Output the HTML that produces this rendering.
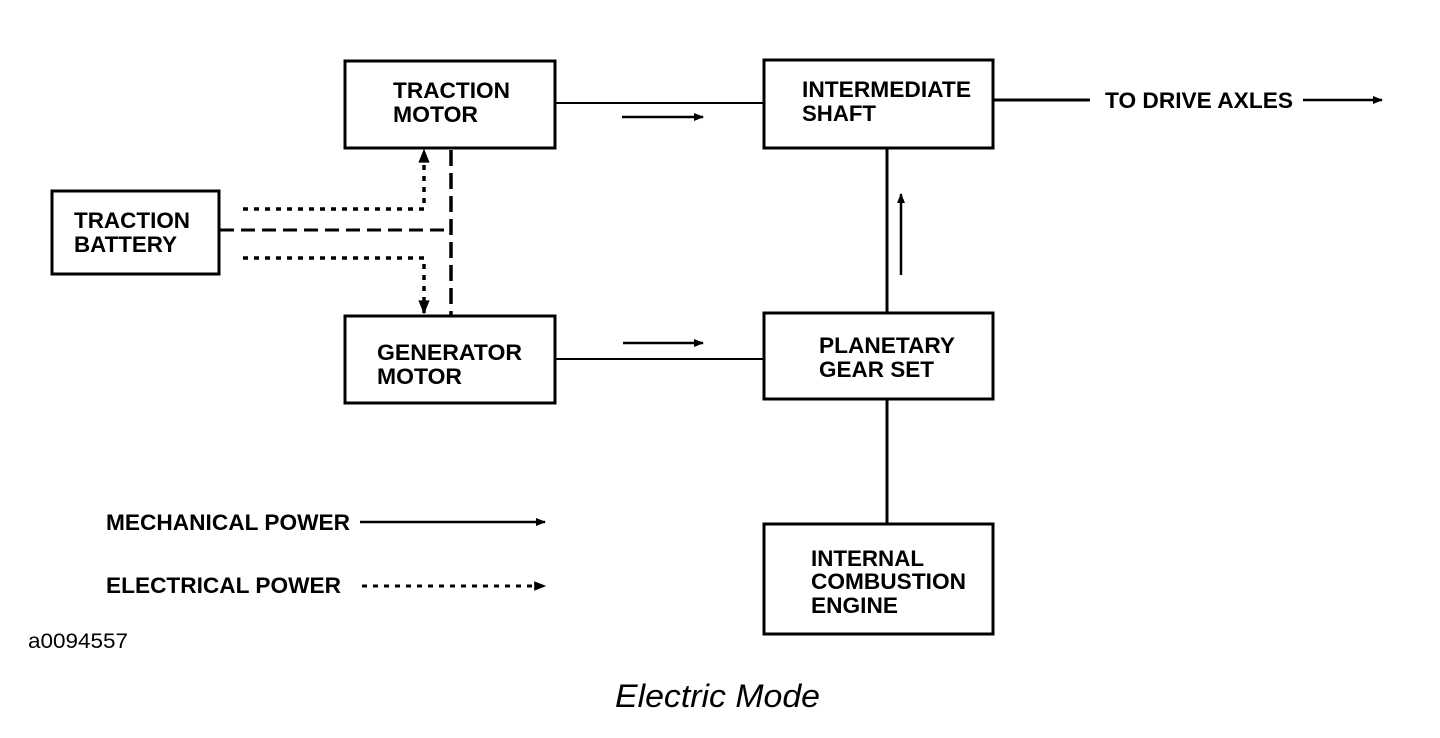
<!DOCTYPE html>
<html><head><meta charset="utf-8"><style>
html,body{margin:0;padding:0;background:#fff;}
svg{display:block}
text{font-family:"Liberation Sans",Arial,sans-serif;fill:#000;}
</style></head><body>
<svg width="1440" height="738" viewBox="0 0 1440 738" xmlns="http://www.w3.org/2000/svg">
<defs>
<marker id="ah" viewBox="0 0 10 10" refX="9" refY="5" markerWidth="5" markerHeight="4" orient="auto" markerUnits="strokeWidth"><path d="M0,1 L10,5 L0,9 z" fill="#000"/></marker>
</defs>
<g fill="none" stroke="#000" stroke-width="3">
<rect x="345" y="61" width="210" height="87"/>
<rect x="764" y="60" width="229" height="88"/>
<rect x="764" y="313" width="229" height="86"/>
<rect x="345" y="316" width="210" height="87"/>
<rect x="764" y="524" width="229" height="110"/>
<rect x="52" y="191" width="167" height="83"/>
</g>
<g stroke="#000" stroke-width="2" fill="none">
<line x1="555" y1="103" x2="764" y2="103"/>
<line x1="555" y1="359" x2="764" y2="359"/>
<line x1="887" y1="148" x2="887" y2="313" stroke-width="3"/>
<line x1="887" y1="399" x2="887" y2="524" stroke-width="3"/>
<line x1="993" y1="100" x2="1090" y2="100" stroke-width="3"/>
<line x1="622" y1="117" x2="703" y2="117" stroke-width="2.5" marker-end="url(#ah)"/>
<line x1="623" y1="343" x2="703" y2="343" stroke-width="2.5" marker-end="url(#ah)"/>
<line x1="901" y1="275" x2="901" y2="194" stroke-width="2.5" marker-end="url(#ah)"/>
<line x1="1303" y1="100" x2="1382" y2="100" stroke-width="2.5" marker-end="url(#ah)"/>
<line x1="360" y1="522" x2="545" y2="522" stroke-width="2.5" marker-end="url(#ah)"/>
<line x1="362" y1="586" x2="545" y2="586" stroke-width="3" stroke-dasharray="5,6" marker-end="url(#ah)"/>
<polyline points="243,209 424,209 424,150" stroke-width="3.5" stroke-dasharray="5,6" marker-end="url(#ah)"/>
<polyline points="243,258 424,258 424,313" stroke-width="3.5" stroke-dasharray="5,6" marker-end="url(#ah)"/>
<polyline points="220,230 451,230" stroke-width="3" stroke-dasharray="14,7"/>
<line x1="451" y1="150" x2="451" y2="315" stroke-width="3.5" stroke-dasharray="16,7"/>
</g>
<g font-size="22" font-weight="bold" lengthAdjust="spacingAndGlyphs">
<text x="393" y="98" textLength="117" lengthAdjust="spacingAndGlyphs">TRACTION</text><text x="393" y="122" textLength="85" lengthAdjust="spacingAndGlyphs">MOTOR</text>
<text x="802" y="97" textLength="169" lengthAdjust="spacingAndGlyphs">INTERMEDIATE</text><text x="802" y="121" textLength="74" lengthAdjust="spacingAndGlyphs">SHAFT</text>
<text x="74" y="228" textLength="116" lengthAdjust="spacingAndGlyphs">TRACTION</text><text x="74" y="252" textLength="103" lengthAdjust="spacingAndGlyphs">BATTERY</text>
<text x="377" y="360" textLength="145" lengthAdjust="spacingAndGlyphs">GENERATOR</text><text x="377" y="384" textLength="85" lengthAdjust="spacingAndGlyphs">MOTOR</text>
<text x="819" y="353" textLength="136" lengthAdjust="spacingAndGlyphs">PLANETARY</text><text x="819" y="377" textLength="115" lengthAdjust="spacingAndGlyphs">GEAR SET</text>
<text x="811" y="566" textLength="113" lengthAdjust="spacingAndGlyphs">INTERNAL</text><text x="811" y="589" textLength="155" lengthAdjust="spacingAndGlyphs">COMBUSTION</text><text x="811" y="613" textLength="87" lengthAdjust="spacingAndGlyphs">ENGINE</text>
<text x="1105" y="108" textLength="188" lengthAdjust="spacingAndGlyphs">TO DRIVE AXLES</text>
<text x="106" y="530" textLength="244" lengthAdjust="spacingAndGlyphs">MECHANICAL POWER</text>
<text x="106" y="593" textLength="235" lengthAdjust="spacingAndGlyphs">ELECTRICAL POWER</text>
</g>
<text x="28" y="648" font-size="21" textLength="100" lengthAdjust="spacingAndGlyphs">a0094557</text>
<text x="615" y="707" font-size="32" font-style="italic" textLength="205" lengthAdjust="spacingAndGlyphs">Electric Mode</text>
</svg>
</body></html>
